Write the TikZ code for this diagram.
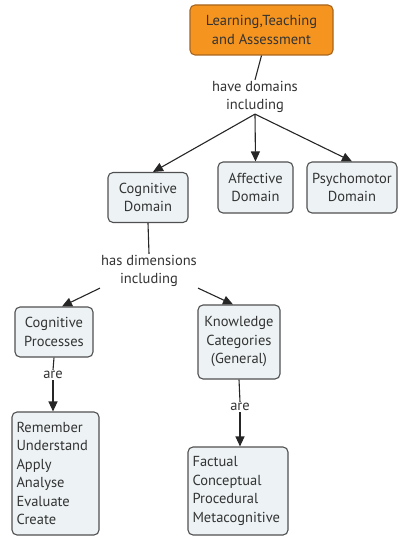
\documentclass[tikz,border=0pt]{standalone}
\usepackage{fontspec}
\setmainfont{PT Sans}
\usetikzlibrary{arrows.meta}
\definecolor{boxfill}{HTML}{EDF3F5}
\definecolor{boxline}{HTML}{505050}
\definecolor{orfill}{HTML}{F5951F}
\definecolor{orline}{HTML}{A8641C}
\tikzset{
  concept/.style={draw=boxline, fill=boxfill, line width=1.1pt, rounded corners=5pt,
    align=center, inner sep=2pt, font=\fontsize{14.5}{18.5}\selectfont, text=black!80},
  listbox/.style={concept, align=left},
  linklabel/.style={align=center, inner sep=1pt, font=\fontsize{14.5}{18.5}\selectfont, text=black!80},
  conn/.style={draw=black!85, line width=1.1pt},
  arr/.style={conn, -{Triangle[width=9pt,length=10pt]}}
}
\begin{document}
\begin{tikzpicture}[x=1pt,y=-1pt]
\useasboundingbox (0,0) rectangle (398,537);
\node[concept, fill=orfill, draw=orline, minimum width=143pt, minimum height=50pt] (top) at (261.5,30) {Learning,Teaching\\and Assessment};
\node[linklabel] (l1) at (255,97) {have domains\\including};
\node[concept, minimum width=80pt, minimum height=50pt] (cd) at (148,197.5) {Cognitive\\Domain};
\node[concept, minimum width=75pt, minimum height=51pt] (ad) at (255.5,187.5) {Affective\\Domain};
\node[concept, minimum width=90pt, minimum height=51pt] (pd) at (352,187.5) {Psychomotor\\Domain};
\node[linklabel] (l2) at (149,271) {has dimensions\\including};
\node[concept, minimum width=78pt, minimum height=50pt] (cp) at (54,332) {Cognitive\\Processes};
\node[concept, minimum width=82pt, minimum height=74pt] (kc) at (239,342) {Knowledge\\Categories\\(General)};
\node[linklabel] (a1) at (53,375) {are};
\node[linklabel] (a2) at (240,407) {are};
\node[listbox, minimum width=87pt, minimum height=123pt, text width=78pt] (rem) at (55.5,473.5) {Remember\\Understand\\Apply\\Analyse\\Evaluate\\Create};
\node[listbox, minimum width=100pt, minimum height=88pt, text width=91pt] (fac) at (238,491) {Factual\\Conceptual\\Procedural\\Metacognitive};
\draw[conn] (top.south) -- (l1.north);
\draw[arr] (l1.south) -- ([xshift=5pt]cd.north);
\draw[arr] (l1.south) -- (ad.north);
\draw[arr] (l1.south) -- (pd.north);
\draw[conn] (cd.south) -- (l2.north);
\draw[arr] (l2.south west) -- ([xshift=8pt]cp.north);
\draw[arr] (l2.south east) -- ([xshift=-6pt]kc.north);
\draw[conn] (cp.south) -- (a1.north);
\draw[arr] (a1.south) -- (a1.south |- rem.north);
\draw[conn] (kc.south) -- (a2.north);
\draw[arr] (a2.south) -- (a2.south |- fac.north);
\end{tikzpicture}
\end{document}
